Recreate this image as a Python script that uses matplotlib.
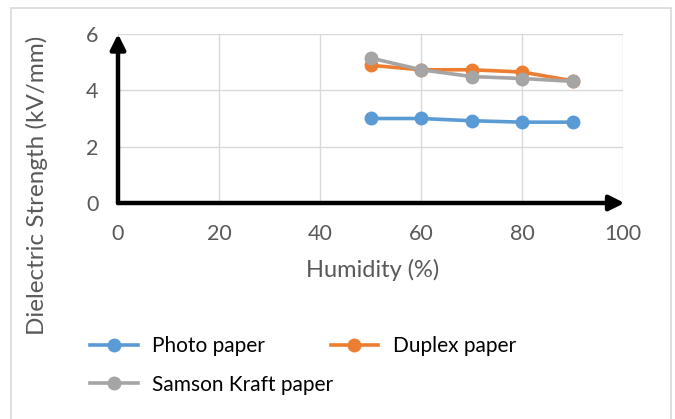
import matplotlib.pyplot as plt
from matplotlib.patches import Rectangle

# Data
humidity = [50, 60, 70, 80, 90]
photo = [3.0, 3.0, 2.92, 2.87, 2.87]
duplex = [4.89, 4.73, 4.73, 4.65, 4.34]
kraft = [5.15, 4.73, 4.49, 4.42, 4.32]

x_ticks = [0, 20, 40, 60, 80, 100]
y_ticks = [0, 2, 4, 6]

plt.rcParams["font.family"] = ["Lato", "DejaVu Sans"]

fig = plt.figure(figsize=(6.75, 4.19), dpi=100)
ax = fig.add_axes([118 / 675, 1 - 203 / 419, (623 - 118) / 675, (203 - 34) / 419])

# Series
l1, = ax.plot(humidity, photo, color="#5b9bd5", lw=2.6, marker="o", ms=9, label="Photo paper", zorder=3)
l2, = ax.plot(humidity, duplex, color="#ed7d31", lw=2.6, marker="o", ms=9, label="Duplex paper", zorder=3)
l3, = ax.plot(humidity, kraft, color="#a5a5a5", lw=2.6, marker="o", ms=9, label="Samson Kraft paper", zorder=4)

ax.set_xlim(0, 100)
ax.set_ylim(0, 6)
ax.set_xticks(x_ticks)
ax.set_yticks(y_ticks)
ax.grid(True, color="#d9d9d9", lw=1)
ax.set_axisbelow(True)
for s in ax.spines.values():
    s.set_visible(False)
ax.tick_params(length=0, labelsize=15.5, colors="#595959")
ax.tick_params(axis="x", pad=15)
ax.tick_params(axis="y", pad=14)

# black arrow axes
ax.annotate("", xy=(0, 1.0), xytext=(0, 0), xycoords="axes fraction",
            arrowprops=dict(arrowstyle="-|>,head_length=0.9,head_width=0.45", lw=3.2, color="black",
                            shrinkA=0, shrinkB=0), zorder=5)
ax.annotate("", xy=(1.003, 0), xytext=(0, 0), xycoords="axes fraction",
            arrowprops=dict(arrowstyle="-|>,head_length=0.9,head_width=0.45", lw=3.2, color="black",
                            shrinkA=0, shrinkB=0), zorder=5)

fig.text(373 / 675, 1 - 270 / 419, "Humidity (%)", fontsize=17, color="#595959",
         ha="center", va="center")
fig.text(37 / 675, 1 - 185 / 419, "Dielectric Strength (kV/mm)", fontsize=17.5, color="#595959",
         ha="center", va="center", rotation=90)

fig.legend([l1, l3, l2], ["Photo paper", "Samson Kraft paper", "Duplex paper"],
           ncol=2, loc="upper left", bbox_to_anchor=(90 / 675, 1 - 336 / 419),
           frameon=False, fontsize=15, handlelength=2.3, columnspacing=-0.15,
           labelspacing=0.9, handletextpad=0.7, borderpad=0, borderaxespad=0)

# chart border
fig.patches.append(Rectangle((11 / 675, -0.01), (671 - 11) / 675, 1.01 - 8 / 419,
                             transform=fig.transFigure, fill=False, ec="#d9d9d9", lw=1.2))

fig.savefig("out.png", dpi=100)
